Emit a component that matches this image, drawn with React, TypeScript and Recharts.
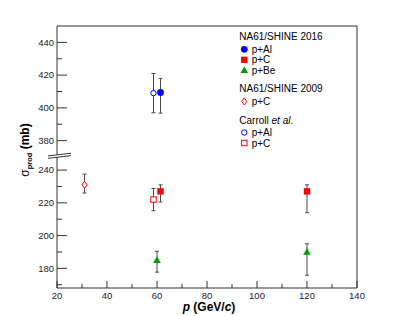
import React from "react";
import {
  ScatterChart,
  Scatter,
  XAxis,
  YAxis,
  ErrorBar,
  ReferenceArea,
  ReferenceDot,
  Legend,
} from "recharts";

const FONT = "'Liberation Sans', Arial, Helvetica, sans-serif";

// The y axis is broken: everything above the cut is moved down by BREAK_SHIFT mb
const BREAK_SHIFT = 122;
const BREAK_AT = 248.7;

const X_TICKS = [20, 30, 40, 50, 60, 70, 80, 90, 100, 110, 120, 130, 140];
const X_LABELED = [20, 40, 60, 80, 100, 120, 140];
const Y_TICKS_LOW = [170, 180, 190, 200, 210, 220, 230, 240];
const Y_TICKS_HIGH = [380, 390, 400, 410, 420, 430, 440];
const Y_LABELED = [180, 200, 220, 240, 380, 400, 420, 440];

// NA61/SHINE 2016
const NA61_AL_P = [61.4];
const NA61_AL_SIGMA = [409.4];
const NA61_AL_ERR_LO = [12.6];
const NA61_AL_ERR_HI = [8.6];

const NA61_C_P = [61.4, 120];
const NA61_C_SIGMA = [227, 227];
const NA61_C_ERR_LO = [6.5, 13];
const NA61_C_ERR_HI = [4, 4];

const NA61_BE_P = [60, 120];
const NA61_BE_SIGMA = [185, 190];
const NA61_BE_ERR_LO = [7.3, 14.2];
const NA61_BE_ERR_HI = [5.4, 5];

// NA61/SHINE 2009
const NA61_2009_C_P = [31];
const NA61_2009_C_SIGMA = [231];
const NA61_2009_C_ERR_LO = [5];
const NA61_2009_C_ERR_HI = [6.5];

// Carroll et al.
const CARROLL_AL_P = [58.6];
const CARROLL_AL_SIGMA = [409];
const CARROLL_AL_ERR = [12];

const CARROLL_C_P = [58.6];
const CARROLL_C_SIGMA = [222];
const CARROLL_C_ERR = [6.8];

const BLUE = "#0000ff";
const RED = "#ff0000";
const GREEN = "#00a000";
const BAR = "#4a4a4a";
const FRAME = "#333333";

const toPlot = (v: number) => (v > 300 ? v - BREAK_SHIFT : v);
const fromPlot = (v: number) => (v > BREAK_AT ? v + BREAK_SHIFT : v);

function rows(p: number[], sigma: number[], lo: number[], hi: number[]) {
  return p.map((x, i) => ({ p: x, y: toPlot(sigma[i]), err: [lo[i], hi[i]] }));
}

const na61Al = rows(NA61_AL_P, NA61_AL_SIGMA, NA61_AL_ERR_LO, NA61_AL_ERR_HI);
const na61C = rows(NA61_C_P, NA61_C_SIGMA, NA61_C_ERR_LO, NA61_C_ERR_HI);
const na61Be = rows(NA61_BE_P, NA61_BE_SIGMA, NA61_BE_ERR_LO, NA61_BE_ERR_HI);
const na61C2009 = rows(NA61_2009_C_P, NA61_2009_C_SIGMA, NA61_2009_C_ERR_LO, NA61_2009_C_ERR_HI);
const carrollAl = rows(CARROLL_AL_P, CARROLL_AL_SIGMA, CARROLL_AL_ERR, CARROLL_AL_ERR);
const carrollC = rows(CARROLL_C_P, CARROLL_C_SIGMA, CARROLL_C_ERR, CARROLL_C_ERR);

type Kind = "circle" | "square" | "triangle" | "diamond" | "ocircle" | "osquare";

function Marker({ kind, cx, cy }: { kind: Kind; cx: number; cy: number }) {
  switch (kind) {
    case "circle":
      return <circle cx={cx} cy={cy} r={3.4} fill={BLUE} />;
    case "square":
      return <rect x={cx - 3.2} y={cy - 3.2} width={6.4} height={6.4} fill={RED} />;
    case "triangle":
      return (
        <polygon
          points={`${cx},${cy - 4} ${cx - 3.8},${cy + 2.8} ${cx + 3.8},${cy + 2.8}`}
          fill={GREEN}
        />
      );
    case "diamond":
      return (
        <polygon
          points={`${cx},${cy - 3.6} ${cx + 2.6},${cy} ${cx},${cy + 3.6} ${cx - 2.6},${cy}`}
          fill="#fff"
          stroke={RED}
          strokeWidth={1}
        />
      );
    case "ocircle":
      return <circle cx={cx} cy={cy} r={2.7} fill="#fff" stroke={BLUE} strokeWidth={1} />;
    case "osquare":
      return (
        <rect x={cx - 2.7} y={cy - 2.7} width={5.4} height={5.4} fill="#fff" stroke={RED} strokeWidth={1} />
      );
  }
  return null;
}

const shapeOf = (kind: Kind) => (props: any) => <Marker kind={kind} cx={props.cx} cy={props.cy} />;

function XTick(props: any) {
  const { x, y, payload } = props;
  const major = X_LABELED.includes(payload.value);
  return (
    <g>
      <line x1={x} y1={y} x2={x} y2={y - (major ? 7 : 4)} stroke={FRAME} strokeWidth={1} />
      {major && (
        <text x={x} y={y + 10.5} textAnchor="middle" fontSize={9.5} fontFamily={FONT} fill="#222">
          {payload.value}
        </text>
      )}
    </g>
  );
}

function YTick(props: any) {
  const { x, y, payload } = props;
  const real = fromPlot(payload.value);
  const major = Y_LABELED.includes(real);
  return (
    <g>
      <line x1={x} y1={y} x2={x + (major ? 10 : 5)} y2={y} stroke={FRAME} strokeWidth={1} />
      {major && (
        <text x={x - 3} y={y} dy="0.35em" textAnchor="end" fontSize={9.5} fontFamily={FONT} fill="#222">
          {real}
        </text>
      )}
    </g>
  );
}

function BreakMark(props: any) {
  const { cx, cy } = props;
  const l = cx - 9;
  const r = cx + 14;
  return (
    <g>
      <polygon points={`${l},${cy + 0.1} ${r},${cy - 2.6} ${r},${cy - 0.2} ${l},${cy + 2.5}`} fill="#fff" />
      <line x1={l} y1={cy + 0.1} x2={r} y2={cy - 2.6} stroke={FRAME} strokeWidth={1} />
      <line x1={l} y1={cy + 2.5} x2={r} y2={cy - 0.2} stroke={FRAME} strokeWidth={1} />
    </g>
  );
}

function XTitle(props: any) {
  const vb = props.viewBox || { x: 57, y: 288, width: 300 };
  return (
    <text
      x={vb.x + vb.width / 2 + 2}
      y={vb.y + 23}
      textAnchor="middle"
      fontSize={12}
      fontWeight="bold"
      fontFamily={FONT}
      fill="#000"
    >
      <tspan fontStyle="italic">p</tspan> (GeV/<tspan fontStyle="italic">c</tspan>)
    </text>
  );
}

function YTitle(props: any) {
  const vb = props.viewBox || { x: 0, y: 26, height: 262 };
  const cy = vb.y + vb.height / 2 - 7;
  return (
    <text
      transform={`translate(29, ${cy}) rotate(-90)`}
      textAnchor="middle"
      fontSize={12}
      fontWeight="bold"
      fontFamily={FONT}
      fill="#000"
    >
      <tspan fontWeight="normal">σ</tspan>
      <tspan fontSize={7.5} dy={3}>prod</tspan>
      <tspan dy={-3}> (mb)</tspan>
    </text>
  );
}

const LEGEND_GROUPS: { title: React.ReactNode; items: { kind: Kind; label: string }[] }[] = [
  {
    title: "NA61/SHINE 2016",
    items: [
      { kind: "circle", label: "p+Al" },
      { kind: "square", label: "p+C" },
      { kind: "triangle", label: "p+Be" },
    ],
  },
  { title: "NA61/SHINE 2009", items: [{ kind: "diamond", label: "p+C" }] },
  {
    title: (
      <>
        Carroll <tspan fontStyle="italic">et al</tspan>.
      </>
    ),
    items: [
      { kind: "ocircle", label: "p+Al" },
      { kind: "osquare", label: "p+C" },
    ],
  },
];

function LegendBox() {
  const rowsOut: React.ReactNode[] = [];
  let y = 10.7;
  LEGEND_GROUPS.forEach((g, gi) => {
    rowsOut.push(
      <text key={`t${gi}`} x={9.3} y={y + 3.6} fontSize={10} fontFamily={FONT} fill="#000">
        {g.title}
      </text>
    );
    y += 12.6;
    g.items.forEach((it, ii) => {
      rowsOut.push(
        <g key={`i${gi}-${ii}`}>
          <Marker kind={it.kind} cx={14.3} cy={y} />
          <text x={21.7} y={y + 3.6} fontSize={10} fontFamily={FONT} fill="#000">
            {it.label}
          </text>
        </g>
      );
      y += 10.5;
    });
    y += 8;
  });
  return (
    <svg width={125} height={125} style={{ display: "block" }}>
      {rowsOut}
    </svg>
  );
}

export default function App() {
  const yTicks = [...Y_TICKS_LOW, ...Y_TICKS_HIGH.map(toPlot)];
  return (
    <div style={{ position: "absolute", left: 0, top: 0, width: 407, height: 316, background: "#fff" }}>
      <ScatterChart width={407} height={316} margin={{ top: 26, right: 50, bottom: 0, left: 0 }}>
        <XAxis
          type="number"
          dataKey="p"
          domain={[20, 140]}
          ticks={X_TICKS}
          height={28}
          axisLine={false}
          tickLine={false}
          tickSize={0}
          tickMargin={0}
          tick={<XTick />}
          interval={0}
          label={{ content: (p: any) => <XTitle {...p} /> }}
        />
        <YAxis
          type="number"
          dataKey="y"
          domain={[168, 328]}
          allowDataOverflow
          ticks={yTicks}
          width={57}
          axisLine={false}
          tickLine={false}
          tickSize={0}
          tickMargin={0}
          tick={<YTick />}
          interval={0}
          label={{ content: (p: any) => <YTitle {...p} /> }}
        />
        <ReferenceArea x1={20} x2={140} y1={168} y2={328} fill="none" stroke={FRAME} strokeWidth={1} ifOverflow="visible" />
        <Scatter data={carrollAl} shape={shapeOf("ocircle")} isAnimationActive={false}>
          <ErrorBar dataKey="err" direction="y" width={2} stroke={BAR} strokeWidth={1} />
        </Scatter>
        <Scatter data={carrollC} shape={shapeOf("osquare")} isAnimationActive={false}>
          <ErrorBar dataKey="err" direction="y" width={2} stroke={BAR} strokeWidth={1} />
        </Scatter>
        <Scatter data={na61C2009} shape={shapeOf("diamond")} isAnimationActive={false}>
          <ErrorBar dataKey="err" direction="y" width={2} stroke={BAR} strokeWidth={1} />
        </Scatter>
        <Scatter data={na61Al} shape={shapeOf("circle")} isAnimationActive={false}>
          <ErrorBar dataKey="err" direction="y" width={2} stroke={BAR} strokeWidth={1} />
        </Scatter>
        <Scatter data={na61C} shape={shapeOf("square")} isAnimationActive={false}>
          <ErrorBar dataKey="err" direction="y" width={2} stroke={BAR} strokeWidth={1} />
        </Scatter>
        <Scatter data={na61Be} shape={shapeOf("triangle")} isAnimationActive={false}>
          <ErrorBar dataKey="err" direction="y" width={2} stroke={BAR} strokeWidth={1} />
        </Scatter>
        <ReferenceDot x={20} y={BREAK_AT} r={0} shape={(p: any) => <BreakMark {...p} />} ifOverflow="visible" />
        <Legend
          layout="horizontal"
          verticalAlign="middle"
          align="center"
          content={() => <LegendBox />}
          wrapperStyle={{ position: "absolute", left: 230, top: 26, width: 125, height: 125 }}
        />
      </ScatterChart>
    </div>
  );
}
